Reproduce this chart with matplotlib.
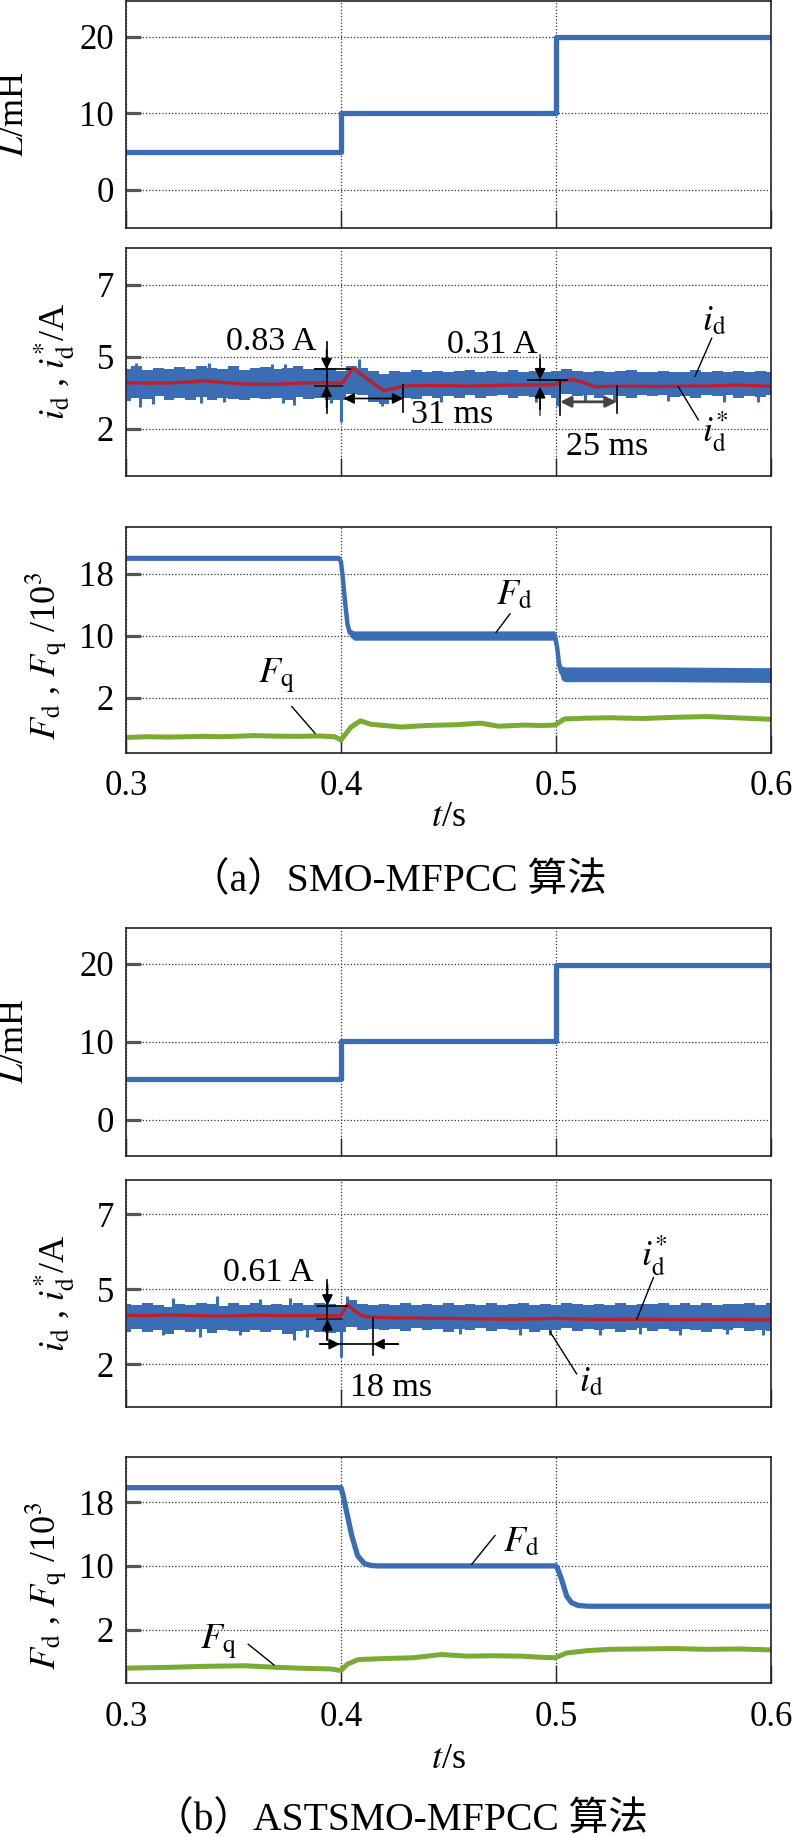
import matplotlib
matplotlib.use('Agg')
import matplotlib.pyplot as plt
import numpy as np

plt.rcParams['font.family'] = ['Liberation Serif', 'Noto Sans CJK SC']
plt.rcParams['mathtext.fontset'] = 'stix'

# ---------------- data ----------------
# inductance step
L_t = [0.3, 0.4, 0.5, 0.6]
L_a = [5.0, 10.0, 20.0, 20.0]
L_b = [5.2, 10.1, 19.8, 19.8]

# time grid of the i_d noise envelopes (5 ms)
noise_t = np.round(np.arange(0.3, 0.6001, 0.005), 3)

id_a_up = [4.50, 4.62, 4.45, 4.55, 4.48, 4.58, 4.50, 4.60, 4.55, 4.48,
           4.62, 4.45, 4.52, 4.58, 4.47, 4.55, 4.60, 4.50, 4.55, 4.52,
           4.40, 4.62, 4.55, 4.40, 4.30, 4.42, 4.38, 4.45, 4.36, 4.42,
           4.35, 4.40, 4.45, 4.36, 4.42, 4.38, 4.45, 4.35, 4.40, 4.38,
           4.42, 4.48, 4.40, 4.35, 4.42, 4.36, 4.40, 4.45, 4.38, 4.35,
           4.42, 4.38, 4.36, 4.44, 4.38, 4.40, 4.35, 4.42, 4.38, 4.40,
           4.36]
id_a_lo = [3.15, 3.30, 3.22, 3.35, 3.18, 3.28, 3.20, 3.32, 3.18, 3.30,
           3.25, 3.18, 3.30, 3.22, 3.28, 3.20, 3.32, 3.22, 3.28, 3.20,
           3.20, 3.45, 3.40, 3.10, 3.05, 3.20, 3.30, 3.22, 3.35, 3.28,
           3.38, 3.30, 3.40, 3.28, 3.36, 3.42, 3.30, 3.38, 3.32, 3.40,
           3.30, 3.45, 3.35, 3.40, 3.30, 3.42, 3.36, 3.30, 3.40, 3.35,
           3.42, 3.32, 3.38, 3.30, 3.40, 3.35, 3.42, 3.30, 3.38, 3.34,
           3.40]
id_a_spk_t = [0.3048, 0.3385, 0.368, 0.374, 0.4085, 0.3063, 0.3124, 0.3349,
              0.3455, 0.3728, 0.3782, 0.3953, 0.4, 0.419, 0.4465, 0.4905,
              0.5005, 0.5135, 0.527, 0.552, 0.578, 0.594]
id_a_spk_v = [4.72, 4.75, 4.68, 4.70, 4.89, 2.91, 3.05, 3.06,
              3.10, 3.06, 2.98, 3.08, 2.29, 2.95, 3.10, 3.12,
              2.95, 3.12, 3.10, 3.15, 3.12, 3.10]
ref_a_t = [0.3, 0.31, 0.32, 0.33, 0.336, 0.345, 0.355, 0.37, 0.38, 0.39,
           0.3995, 0.401, 0.4055, 0.412, 0.4197, 0.425, 0.429, 0.44, 0.46,
           0.48, 0.4995, 0.501, 0.507, 0.512, 0.518, 0.53, 0.55, 0.57,
           0.585, 0.6]
ref_a = [3.92, 3.90, 3.91, 3.95, 4.00, 3.93, 3.86, 3.85, 3.90, 3.92,
         3.90, 3.95, 4.52, 4.10, 3.58, 3.68, 3.78, 3.80, 3.78,
         3.82, 3.83, 3.92, 4.06, 3.95, 3.75, 3.77, 3.76, 3.78,
         3.82, 3.77]

id_b_up = [4.42, 4.35, 4.45, 4.38, 4.30, 4.42, 4.36, 4.45, 4.40, 4.32,
           4.44, 4.38, 4.46, 4.35, 4.42, 4.38, 4.45, 4.36, 4.44, 4.40,
           4.30, 4.55, 4.40, 4.35, 4.42, 4.38, 4.44, 4.35, 4.42, 4.38,
           4.46, 4.36, 4.42, 4.38, 4.44, 4.35, 4.40, 4.45, 4.38, 4.42,
           4.36, 4.44, 4.40, 4.35, 4.42, 4.38, 4.45, 4.36, 4.42, 4.40,
           4.44, 4.37, 4.43, 4.38, 4.45, 4.36, 4.42, 4.39, 4.44, 4.37,
           4.43]
id_b_lo = [3.30, 3.40, 3.28, 3.38, 3.22, 3.35, 3.30, 3.42, 3.25, 3.36,
           3.32, 3.28, 3.38, 3.30, 3.35, 3.22, 3.32, 3.38, 3.30, 3.26,
           3.30, 3.50, 3.38, 3.42, 3.35, 3.40, 3.32, 3.44, 3.36, 3.40,
           3.30, 3.42, 3.36, 3.44, 3.32, 3.40, 3.35, 3.42, 3.30, 3.38,
           3.36, 3.44, 3.32, 3.40, 3.35, 3.42, 3.30, 3.38, 3.44, 3.34,
           3.40, 3.32, 3.42, 3.36, 3.30, 3.40, 3.35, 3.43, 3.32, 3.38,
           3.34]
id_b_spk_t = [0.322, 0.3422, 0.3623, 0.3762, 0.403, 0.3174, 0.3344, 0.3531,
              0.378, 0.3841, 0.4, 0.4553, 0.4832, 0.4972, 0.5205, 0.539,
              0.5577, 0.5794, 0.5964]
id_b_spk_v = [4.66, 4.73, 4.59, 4.66, 4.73, 3.17, 3.10, 3.17,
              2.97, 3.10, 2.29, 3.20, 3.17, 3.15, 3.18, 3.20,
              3.18, 3.20, 3.17]
ref_b_t = [0.3, 0.31, 0.32, 0.33, 0.345, 0.36, 0.375, 0.39, 0.3995, 0.401,
           0.403, 0.406, 0.409, 0.412, 0.42, 0.44, 0.46, 0.48, 0.5, 0.52,
           0.54, 0.56, 0.58, 0.6]
ref_b = [3.96, 3.94, 3.97, 3.95, 3.92, 3.96, 3.94, 3.95, 3.93, 4.10,
         4.39, 4.15, 3.98, 3.90, 3.86, 3.84, 3.82, 3.80, 3.83, 3.79,
         3.80, 3.78, 3.79, 3.77]

# F_d, F_q (x10^3)
fd_a_t = [0.3, 0.399, 0.4, 0.401, 0.402, 0.403, 0.404, 0.406, 0.45, 0.4995,
          0.5005, 0.5015, 0.5025, 0.504, 0.55, 0.6]
fd_a = [20.0, 20.0, 19.5, 17.0, 14.0, 11.5, 10.4, 10.0, 10.0, 10.0,
        8.5, 6.2, 5.2, 5.0, 5.0, 4.9]
fd_a_hw = [0.3, 0.3, 0.3, 0.35, 0.4, 0.45, 0.5, 0.6, 0.6, 0.6,
           0.65, 0.75, 0.9, 0.95, 0.95, 0.95]
fq_a_t = [0.3, 0.31, 0.32, 0.336, 0.345, 0.36, 0.37, 0.38, 0.39, 0.397,
          0.4, 0.4047, 0.409, 0.414, 0.42, 0.428, 0.44, 0.454, 0.465, 0.4733,
          0.485, 0.4935, 0.4995, 0.504, 0.515, 0.525, 0.54, 0.555, 0.57,
          0.583, 0.6]
fq_a = [-3.15, -3.05, -3.10, -3.00, -3.05, -2.90, -2.98, -3.00, -2.95, -3.05,
        -3.45, -1.80, -1.00, -1.45, -1.60, -1.80, -1.60, -1.50, -1.30, -1.70,
        -1.55, -1.60, -1.55, -0.75, -0.65, -0.60, -0.70, -0.55, -0.45,
        -0.60, -0.80]

fd_b_t = [0.3, 0.4, 0.401, 0.403, 0.405, 0.4077, 0.4108, 0.414, 0.418, 0.45,
          0.5, 0.501, 0.5026, 0.505, 0.5072, 0.5103, 0.515, 0.6]
fd_b = [19.8, 19.8, 18.8, 16.3, 13.8, 11.3, 10.3, 10.05, 10.0, 10.0,
        10.0, 9.5, 8.3, 6.2, 5.4, 5.05, 4.95, 4.95]
fq_b_t = [0.3, 0.32, 0.336, 0.355, 0.37, 0.38, 0.395, 0.4, 0.403, 0.408,
          0.42, 0.4336, 0.4466, 0.459, 0.47, 0.484, 0.4935, 0.4995, 0.505,
          0.515, 0.5254, 0.54, 0.555, 0.57, 0.585, 0.6]
fq_b = [-2.80, -2.70, -2.58, -2.50, -2.70, -2.80, -2.90, -3.10, -2.30, -1.73,
        -1.60, -1.50, -1.10, -1.30, -1.25, -1.30, -1.45, -1.50, -0.90,
        -0.60, -0.44, -0.40, -0.35, -0.45, -0.40, -0.52]

x_ticks = [0.3, 0.4, 0.5, 0.6]
x_ticklabels = ['0.3', '0.4', '0.5', '0.6']

BLUE = '#3b6db5'
RED = '#bf1f2c'
GREEN = '#7aab32'

TICK_FS = 25
ANNO_FS = 24.5
SYM_FS = 26
YLAB_FS = 26
CAP_FS = 28.5

W, H = 798, 1837
fig = plt.figure(figsize=(W / 100, H / 100), dpi=100)


def rect(top, bottom):
    return [126 / W, 1 - bottom / H, 645 / W, (bottom - top) / H]


def style(ax, ylim, yticks, ylabels, show_x=False, xpad=13):
    ax.set_xlim(0.3, 0.6)
    ax.set_ylim(*ylim)
    ax.set_xticks(x_ticks, x_ticklabels)
    ax.set_yticks(yticks, ylabels)
    ax.grid(True, linestyle=(0, (1, 1.6)), color='#333333', linewidth=0.9)
    ax.set_axisbelow(True)
    for s in ax.spines.values():
        s.set_linewidth(1.2)
        s.set_color('#222222')
    ax.tick_params(axis='x', direction='in', length=13, width=1.0,
                   color='#222222', labelsize=TICK_FS, pad=xpad,
                   labelbottom=show_x)
    ax.tick_params(axis='y', direction='in', length=11, width=2.3,
                   color='#555555', labelsize=TICK_FS, pad=8.5)


def ylab(x, y, s):
    fig.text(x / W, 1 - y / H, s, rotation=90, ha='center', va='center',
             fontsize=YLAB_FS)


def arrow(ax, x0, y0, x1, y1, color='k'):
    ax.annotate('', xy=(x1, y1), xytext=(x0, y0),
                arrowprops=dict(arrowstyle='-|>', color=color, lw=1.2,
                                mutation_scale=16, shrinkA=0, shrinkB=0))


def draw_id(ax, up, lo, spk_t, spk_v, rt, rv):
    ax.fill_between(noise_t, lo, up, step='mid', color=BLUE, lw=0)
    base = np.interp(spk_t, rt, rv)
    ax.vlines(spk_t, np.minimum(base, spk_v), np.maximum(base, spk_v),
              color=BLUE, lw=2.2)
    ax.plot(rt, rv, color=RED, lw=2.4)


def sym(ax, x, y, s):
    ax.text(x, y, s, ha='center', va='center', fontsize=SYM_FS)


def note(ax, x, y, s):
    ax.text(x, y, s, ha='center', va='center', fontsize=ANNO_FS)


# ================= (a) =================
ax1 = fig.add_axes(rect(1, 228))
ax1.plot(L_t, L_a, drawstyle='steps-post', color=BLUE, lw=3.8)
style(ax1, (-4.96, 24.66), [0, 10, 20], ['0', '10', '20'])
ylab(15, 114, r'$L$/mH')

ax2 = fig.add_axes(rect(248, 476))
draw_id(ax2, id_a_up, id_a_lo, id_a_spk_t, id_a_spk_v, ref_a_t, ref_a)
style(ax2, (0.03, 9.53), [2, 5, 8], ['2', '5', '7'])
ylab(55, 361, r'$i_{\mathrm{d}}$ , $i_{\mathrm{d}}^{*}$/A')
# 0.83 A
ax2.plot([0.3933, 0.3933], [5.63, 2.64], color='k', lw=1.2)
ax2.plot([0.3879, 0.4042], [4.47, 4.47], color='k', lw=1.2)
ax2.plot([0.3879, 0.4003], [3.80, 3.80], color='#222222', lw=1.5)
arrow(ax2, 0.3933, 5.3, 0.3933, 4.47)
arrow(ax2, 0.3933, 2.9, 0.3933, 3.80)
note(ax2, 0.3675, 5.61, '0.83 A')
# 31 ms
ax2.annotate('', xy=(0.429, 3.26), xytext=(0.4011, 3.26),
             arrowprops=dict(arrowstyle='<|-|>', color='k', lw=1.2,
                             mutation_scale=16, shrinkA=0, shrinkB=0))
ax2.plot([0.429, 0.429], [3.82, 2.71], color='k', lw=1.2)
note(ax2, 0.4516, 2.57, '31 ms')
# 0.31 A
ax2.plot([0.4926, 0.4926], [5.07, 2.57], color='#555555', lw=1.2)
ax2.plot([0.4871, 0.5050], [4.03, 4.03], color='k', lw=1.2)
arrow(ax2, 0.4926, 4.9, 0.4926, 4.05)
arrow(ax2, 0.4926, 2.8, 0.4926, 3.74)
note(ax2, 0.4702, 5.49, '0.31 A')
# 25 ms
ax2.annotate('', xy=(0.5282, 3.12), xytext=(0.5019, 3.12),
             arrowprops=dict(arrowstyle='<|-|>', color='#444444', lw=2.0,
                             mutation_scale=16, shrinkA=0, shrinkB=0))
ax2.plot([0.5019, 0.5019], [4.03, 2.57], color='k', lw=1.2)
ax2.plot([0.5282, 0.5282], [3.76, 2.65], color='k', lw=1.2)
note(ax2, 0.5236, 1.24, '25 ms')
# labels
ax2.plot([0.5724, 0.5647], [5.77, 4.19], color='k', lw=1.0)
sym(ax2, 0.5735, 6.46, r'$i_{\mathrm{d}}$')
ax2.plot([0.5569, 0.5662], [3.75, 2.37], color='k', lw=1.0)
sym(ax2, 0.574, 1.88, r'$i_{\mathrm{d}}^{*}$')

ax3 = fig.add_axes(rect(527, 753))
fd_a_arr = np.array(fd_a)
hw_a = np.array(fd_a_hw)
ax3.fill_between(fd_a_t, fd_a_arr - hw_a, fd_a_arr + hw_a, color=BLUE, lw=0)
ax3.plot(fd_a_t, fd_a, color=BLUE, lw=3.2)
ax3.plot(fq_a_t, fq_a, color=GREEN, lw=3.6)
style(ax3, (-5.15, 24.0), [2, 10, 18], ['2', '10', '18'], show_x=True,
      xpad=12.5)
ylab(46, 656, r'$F_{\mathrm{d}}$ , $F_{\mathrm{q}}$ /10$^{3}$')
ax3.plot([0.4786, 0.4721], [12.8, 10.4], color='k', lw=1.0)
sym(ax3, 0.4805, 15.1, r'$F_{\mathrm{d}}$')
ax3.plot([0.3771, 0.3879], [0.84, -2.6], color='k', lw=1.0)
sym(ax3, 0.3698, 4.7, r'$F_{\mathrm{q}}$')
fig.text(448.5 / W, 1 - 818 / H, r'$t$/s', ha='center', va='center',
         fontsize=YLAB_FS)
fig.text(398 / W, 1 - 881.7 / H, '（a）SMO-MFPCC 算法', ha='center',
         va='center', fontsize=CAP_FS)

# ================= (b) =================
ax4 = fig.add_axes(rect(928, 1156))
ax4.plot(L_t, L_b, drawstyle='steps-post', color=BLUE, lw=3.8)
style(ax4, (-4.62, 24.58), [0, 10, 20], ['0', '10', '20'])
ylab(15, 1041, r'$L$/mH')

ax5 = fig.add_axes(rect(1180, 1407))
draw_id(ax5, id_b_up, id_b_lo, id_b_spk_t, id_b_spk_v, ref_b_t, ref_b)
style(ax5, (0.28, 9.38), [2, 5, 8], ['2', '5', '7'])
ylab(55, 1293, r'$i_{\mathrm{d}}$ , $i_{\mathrm{d}}^{*}$/A')
# 0.61 A
ax5.plot([0.3937, 0.3937], [5.37, 2.97], color='k', lw=1.2)
ax5.plot([0.3887, 0.4026], [4.32, 4.32], color='k', lw=1.2)
ax5.plot([0.3887, 0.4003], [3.82, 3.82], color='#222222', lw=1.2)
arrow(ax5, 0.3937, 5.2, 0.3937, 4.34)
arrow(ax5, 0.3937, 3.0, 0.3937, 3.80)
note(ax5, 0.366, 5.67, '0.61 A')
# 18 ms
ax5.plot([0.3902, 0.4267], [2.80, 2.80], color='k', lw=1.2)
arrow(ax5, 0.3902, 2.80, 0.3995, 2.80)
arrow(ax5, 0.4267, 2.80, 0.4150, 2.80)
ax5.plot([0.415, 0.415], [3.85, 2.36], color='k', lw=1.2)
note(ax5, 0.4232, 1.07, '18 ms')
# labels
ax5.plot([0.5453, 0.5375], [5.47, 3.78], color='k', lw=1.0)
sym(ax5, 0.546, 6.35, r'$i_{\mathrm{d}}^{*}$')
ax5.plot([0.4972, 0.5096], [3.30, 1.61], color='k', lw=1.0)
sym(ax5, 0.5163, 1.27, r'$i_{\mathrm{d}}$')

ax6 = fig.add_axes(rect(1456.5, 1682.5))
ax6.plot(fd_b_t, fd_b, color=BLUE, lw=3.8)
ax6.plot(fq_b_t, fq_b, color=GREEN, lw=3.6)
style(ax6, (-4.6, 23.7), [2, 10, 18], ['2', '10', '18'], show_x=True,
      xpad=13.5)
ylab(46, 1586, r'$F_{\mathrm{d}}$ , $F_{\mathrm{q}}$ /10$^{3}$')
ax6.plot([0.4716, 0.4608], [13.8, 10.2], color='k', lw=1.0)
sym(ax6, 0.4837, 12.9, r'$F_{\mathrm{d}}$')
ax6.plot([0.3569, 0.3688], [0.18, -2.4], color='k', lw=1.0)
sym(ax6, 0.3428, 0.4, r'$F_{\mathrm{q}}$')
fig.text(448.5 / W, 1 - 1759 / H, r'$t$/s', ha='center', va='center',
         fontsize=YLAB_FS)
fig.text(401 / W, 1 - 1820.5 / H, '（b）ASTSMO-MFPCC 算法', ha='center',
         va='center', fontsize=CAP_FS)

fig.savefig('out.png', dpi=100)
